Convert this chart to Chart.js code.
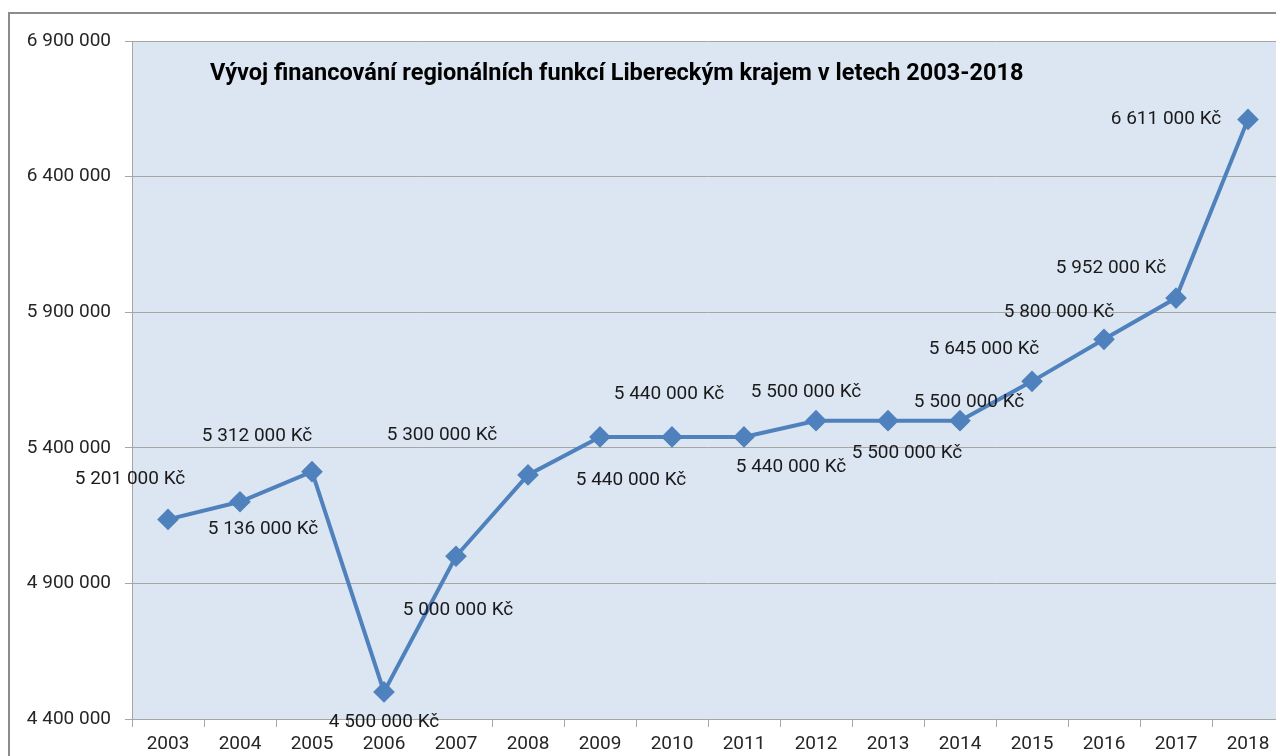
<!DOCTYPE html>
<html>
<head>
<meta charset="utf-8">
<script src="https://cdn.jsdelivr.net/npm/chart.js@4"></script>
<style>
body{margin:0;overflow:hidden;background:#fff;}
#wrap{position:absolute;left:0;top:0;width:1300px;height:770px;}
#title{position:absolute;left:210px;top:60px;font:bold 23.5px/24px Roboto,sans-serif;color:#000;white-space:nowrap;}
</style>
</head>
<body>
<div id="wrap">
<canvas id="chart" width="1300" height="770"></canvas>
<div id="title">Vývoj financování regionálních funkcí Libereckým krajem v letech 2003-2018</div>
</div>
<script>
// Data
const years=['2003','2004','2005','2006','2007','2008','2009','2010','2011','2012','2013','2014','2015','2016','2017','2018'];
const amounts=[5136000,5201000,5312000,4500000,5000000,5300000,5440000,5440000,5440000,5500000,5500000,5500000,5645000,5800000,5952000,6611000];
const pointLabels=['5 201 000 Kč','5 136 000 Kč','5 312 000 Kč','4 500 000 Kč','5 000 000 Kč','5 300 000 Kč','5 440 000 Kč','5 440 000 Kč','5 440 000 Kč','5 500 000 Kč','5 500 000 Kč','5 500 000 Kč','5 645 000 Kč','5 800 000 Kč','5 952 000 Kč','6 611 000 Kč'];

// label offsets from each point (dx, dy) - layout only
const labelOffsets=[[-38,-40],[23,27],[-55,-35],[0,30],[2,54],[-86,-40],[31,43],[-3,-43],[47,30],[-10,-28],[19,33],[9,-18],[-48,-32],[-45,-27],[-65,-30],[-82,0]];

function fmt(n){ return String(n).replace(/\B(?=(\d{3})+(?!\d))/g,' '); }

const plotBg={
  id:'plotBg',
  beforeDraw(chart){
    const {ctx,chartArea:a}=chart;
    ctx.save();
    // outer frame
    ctx.strokeStyle='#8c8c8c'; ctx.lineWidth=2;
    ctx.beginPath(); ctx.moveTo(9,770); ctx.lineTo(9,13); ctx.lineTo(1300,13); ctx.stroke();
    ctx.fillStyle='#dce6f2';
    ctx.fillRect(a.left,a.top,a.right-a.left,a.bottom-a.top);
    ctx.strokeStyle='#a6a6a6'; ctx.lineWidth=1;
    ctx.beginPath(); ctx.moveTo(a.left+0.5,a.top); ctx.lineTo(a.left+0.5,a.bottom); ctx.stroke();
    ctx.restore();
  }
};

const valueLabels={
  id:'valueLabels',
  afterDatasetsDraw(chart){
    const {ctx}=chart;
    const meta=chart.getDatasetMeta(0);
    ctx.save();
    ctx.font='19px Roboto, sans-serif';
    ctx.fillStyle='#1a1a1a';
    ctx.textAlign='center'; ctx.textBaseline='middle';
    meta.data.forEach((p,i)=>{
      const o=labelOffsets[i];
      ctx.fillText(pointLabels[i],p.x+o[0],p.y+o[1]);
    });
    ctx.restore();
  }
};

new Chart(document.getElementById('chart'),{
  type:'line',
  data:{labels:years,datasets:[{
    data:amounts,
    borderColor:'#4f81bd',
    backgroundColor:'#4f81bd',
    borderWidth:4,
    pointStyle:'rectRot',
    pointRadius:8,
    pointBackgroundColor:'#4f81bd',
    pointBorderColor:'#4f81bd',
    tension:0
  }]},
  options:{
    responsive:false,
    animation:false,
    layout:{padding:{left:0,top:41,right:16,bottom:0}},
    plugins:{legend:{display:false},tooltip:{enabled:false}},
    scales:{
      x:{
        offset:true,
        border:{color:'#a6a6a6'},
        grid:{drawOnChartArea:false,tickLength:8,color:'#a6a6a6',offset:true},
        ticks:{color:'#262626',font:{family:'Roboto',size:19},padding:6,maxRotation:0},
        afterFit(s){ s.height=51; }
      },
      y:{
        min:4400000,max:6900000,
        border:{color:'#a6a6a6'},
        grid:{color:'#a6a6a6',tickLength:7},
        ticks:{stepSize:500000,color:'#262626',font:{family:'Roboto',size:19},padding:14,callback:v=>fmt(v)},
        afterFit(s){ s.width=132; }
      }
    }
  },
  plugins:[plotBg,valueLabels]
});
</script>
</body>
</html>
